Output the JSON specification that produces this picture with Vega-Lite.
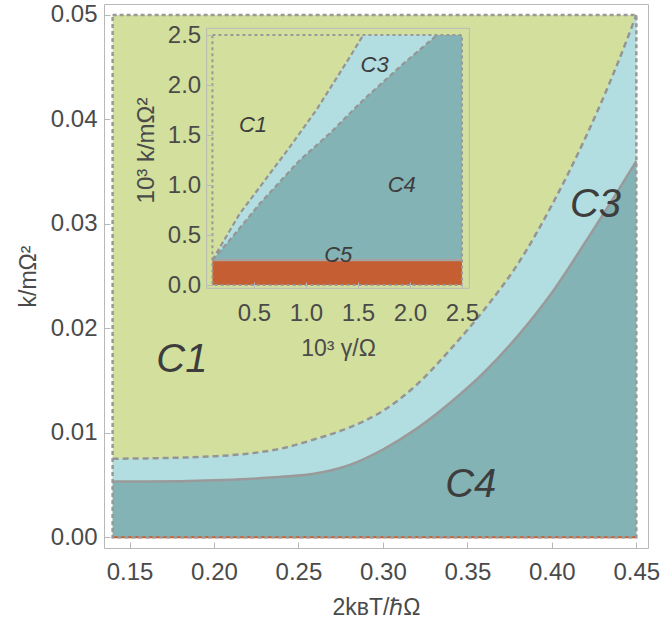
{
  "$schema": "https://vega.github.io/schema/vega-lite/v6.json",
  "width": 544,
  "height": 544,
  "autosize": {"type": "none"},
  "padding": {"left": 104, "top": 4, "right": 14, "bottom": 77},
  "background": "white",
  "config": {
    "view": {"stroke": "#b8b8b8", "strokeWidth": 1},
    "font": "Liberation Sans",
    "axis": {
      "labelFont": "Liberation Sans",
      "titleFont": "Liberation Sans",
      "labelFontSize": 24,
      "titleFontSize": 23,
      "labelColor": "#4a4a4a",
      "titleColor": "#4a4a4a",
      "titleFontWeight": "normal",
      "domain": false,
      "ticks": true,
      "tickSize": -6,
      "tickColor": "#b8b8b8",
      "tickWidth": 1,
      "grid": false,
      "zindex": 1
    }
  },
  "datasets": {
    "mainBox": [{"x0": 0.14, "x1": 0.45, "y0": 0, "y1": 0.05}],
    "mainCurves": [
      {"x": 0.14, "solid": 0.00534, "dashed": 0.00752},
      {"x": 0.16, "solid": 0.00534, "dashed": 0.00755},
      {"x": 0.18, "solid": 0.00537, "dashed": 0.00762},
      {"x": 0.20, "solid": 0.00545, "dashed": 0.00775},
      {"x": 0.22, "solid": 0.00558, "dashed": 0.0080},
      {"x": 0.24, "solid": 0.00578, "dashed": 0.0085},
      {"x": 0.26, "solid": 0.0061, "dashed": 0.0094},
      {"x": 0.28, "solid": 0.0069, "dashed": 0.0105},
      {"x": 0.30, "solid": 0.0084, "dashed": 0.0121},
      {"x": 0.32, "solid": 0.0104, "dashed": 0.0146},
      {"x": 0.34, "solid": 0.0129, "dashed": 0.0180},
      {"x": 0.36, "solid": 0.0158, "dashed": 0.0218},
      {"x": 0.38, "solid": 0.0193, "dashed": 0.0262},
      {"x": 0.40, "solid": 0.0234, "dashed": 0.0318},
      {"x": 0.42, "solid": 0.0283, "dashed": 0.0383},
      {"x": 0.44, "solid": 0.0334, "dashed": 0.0458},
      {"x": 0.45, "solid": 0.0360, "dashed": 0.0500}
    ],
    "mainLabels": [
      {"x": 0.181, "y": 0.0170, "label": "C1"},
      {"x": 0.4258, "y": 0.0318, "label": "C3"},
      {"x": 0.352, "y": 0.0050, "label": "C4"}
    ],
    "insetFrame": [{"x0": 0.045, "x1": 2.57, "y0": -0.033, "y1": 2.567}],
    "insetBox": [{"x0": 0.1, "x1": 2.5, "y0": 0, "y1": 2.5}],
    "insetC5": [{"x0": 0.1, "x1": 2.5, "y0": 0, "y1": 0.25}],
    "line1": [
      {"x": 0.1, "y": 0.25},
      {"x": 0.365, "y": 0.717},
      {"x": 0.558, "y": 0.983},
      {"x": 0.846, "y": 1.383},
      {"x": 1.10, "y": 1.75},
      {"x": 1.423, "y": 2.283},
      {"x": 1.55, "y": 2.5},
      {"x": 2.5, "y": 2.5}
    ],
    "line2": [
      {"x": 0.1, "y": 0.25},
      {"x": 0.3, "y": 0.49},
      {"x": 0.558, "y": 0.817},
      {"x": 0.942, "y": 1.25},
      {"x": 1.23, "y": 1.517},
      {"x": 1.55, "y": 1.85},
      {"x": 1.94, "y": 2.217},
      {"x": 2.26, "y": 2.5},
      {"x": 2.5, "y": 2.5}
    ],
    "insetLabels": [
      {"x": 0.49, "y": 1.6, "label": "C1"},
      {"x": 1.66, "y": 2.2, "label": "C3"},
      {"x": 1.92, "y": 1.0, "label": "C4"},
      {"x": 1.31, "y": 0.30, "label": "C5"}
    ]
  },
  "resolve": {"scale": {"x": "independent", "y": "independent"}, "axis": {"x": "independent", "y": "independent"}},
  "layer": [
    {
      "layer": [
        {
          "data": {"name": "mainBox"},
          "mark": {"type": "rect", "fill": "#d3e09d"},
          "encoding": {
            "x": {"field": "x0", "type": "quantitative",
              "scale": {"domain": [0.1349, 0.4569], "nice": false, "zero": false},
              "axis": {"orient": "bottom", "values": [0.15, 0.2, 0.25, 0.3, 0.35, 0.4, 0.45], "format": ".2f", "labelPadding": 18, "title": "2kʙT/ℏΩ", "titlePadding": 12}},
            "x2": {"field": "x1"},
            "y": {"field": "y0", "type": "quantitative",
              "scale": {"domain": [-0.00103, 0.05105], "nice": false, "zero": false},
              "axis": {"orient": "left", "values": [0, 0.01, 0.02, 0.03, 0.04, 0.05], "format": ".2f", "labelPadding": 13, "title": "k/mΩ²", "titlePadding": 10}},
            "y2": {"field": "y1"}
          }
        },
        {
          "data": {"name": "mainCurves"},
          "mark": {"type": "area", "fill": "#b3dee1", "interpolate": "monotone"},
          "encoding": {
            "x": {"field": "x", "type": "quantitative"},
            "y": {"field": "dashed", "type": "quantitative"},
            "y2": {"field": "solid"}
          }
        },
        {
          "data": {"name": "mainCurves"},
          "mark": {"type": "area", "fill": "#84b3b5", "interpolate": "monotone"},
          "encoding": {
            "x": {"field": "x", "type": "quantitative"},
            "y": {"field": "solid", "type": "quantitative"},
            "y2": {"datum": 0}
          }
        },
        {
          "data": {"name": "mainCurves"},
          "mark": {"type": "line", "stroke": "#9a9a9a", "strokeWidth": 2.5, "interpolate": "monotone"},
          "encoding": {
            "x": {"field": "x", "type": "quantitative"},
            "y": {"field": "solid", "type": "quantitative"}
          }
        },
        {
          "data": {"name": "mainCurves"},
          "mark": {"type": "line", "stroke": "#959595", "strokeWidth": 2.5, "strokeDash": [6, 4], "interpolate": "monotone"},
          "encoding": {
            "x": {"field": "x", "type": "quantitative"},
            "y": {"field": "dashed", "type": "quantitative"}
          }
        },
        {
          "data": {"name": "mainBox"},
          "mark": {"type": "rule", "stroke": "#c75c2e", "strokeWidth": 2},
          "encoding": {
            "x": {"field": "x0", "type": "quantitative"},
            "x2": {"field": "x1"},
            "y": {"field": "y0", "type": "quantitative"}
          }
        },
        {
          "data": {"name": "mainBox"},
          "mark": {"type": "rect", "fill": null, "fillOpacity": 0, "stroke": "#999999", "strokeWidth": 2.5, "strokeDash": [4, 3]},
          "encoding": {
            "x": {"field": "x0", "type": "quantitative"},
            "x2": {"field": "x1"},
            "y": {"field": "y0", "type": "quantitative"},
            "y2": {"field": "y1"}
          }
        },
        {
          "data": {"name": "mainLabels"},
          "mark": {"type": "text", "font": "Liberation Sans", "fontStyle": "italic", "fontSize": 40, "color": "#3d3d3d", "align": "center", "baseline": "middle"},
          "encoding": {
            "x": {"field": "x", "type": "quantitative"},
            "y": {"field": "y", "type": "quantitative"},
            "text": {"field": "label"}
          }
        }
      ]
    },
    {
      "layer": [
        {
          "data": {"name": "insetFrame"},
          "mark": {"type": "rect", "fill": "#d3e09d", "stroke": "#b8b8b8", "strokeWidth": 1},
          "encoding": {
            "x": {"field": "x0", "type": "quantitative",
              "scale": {"domain": [0.045, 2.57], "range": [102.7, 365.3], "nice": false, "zero": false},
              "axis": {"orient": "bottom", "offset": -260, "zindex": 2, "values": [0.5, 1, 1.5, 2, 2.5], "format": ".1f", "labelPadding": 19, "title": "10³ γ/Ω", "titlePadding": 12}},
            "x2": {"field": "x1"},
            "y": {"field": "y0", "type": "quantitative",
              "scale": {"domain": [-0.033, 2.567], "range": [284.3, 24.3], "nice": false, "zero": false},
              "axis": {"orient": "left", "offset": -102.7, "zindex": 2, "values": [0, 0.5, 1, 1.5, 2, 2.5], "format": ".1f", "labelPadding": 12, "title": "10³ k/mΩ²", "titleFontSize": 24, "titleX": -48, "titleY": 146, "titleAngle": -90, "titleBaseline": "bottom", "titleAlign": "center"}},
            "y2": {"field": "y1"}
          }
        },
        {
          "data": {"name": "line1"},
          "mark": {"type": "area", "fill": "#b3dee1"},
          "encoding": {
            "x": {"field": "x", "type": "quantitative"},
            "y": {"field": "y", "type": "quantitative"},
            "y2": {"datum": 0.25}
          }
        },
        {
          "data": {"name": "line2"},
          "mark": {"type": "area", "fill": "#84b3b5"},
          "encoding": {
            "x": {"field": "x", "type": "quantitative"},
            "y": {"field": "y", "type": "quantitative"},
            "y2": {"datum": 0.25}
          }
        },
        {
          "data": {"name": "insetC5"},
          "mark": {"type": "rect", "fill": "#c55e32"},
          "encoding": {
            "x": {"field": "x0", "type": "quantitative"},
            "x2": {"field": "x1"},
            "y": {"field": "y0", "type": "quantitative"},
            "y2": {"field": "y1"}
          }
        },
        {
          "data": {"name": "insetC5"},
          "mark": {"type": "rule", "stroke": "#a3a3a3", "strokeWidth": 2.5},
          "encoding": {
            "x": {"field": "x0", "type": "quantitative"},
            "x2": {"field": "x1"},
            "y": {"field": "y1", "type": "quantitative"}
          }
        },
        {
          "data": {"name": "line1"},
          "transform": [{"filter": "datum.x <= 1.6"}],
          "mark": {"type": "line", "stroke": "#959595", "strokeWidth": 2.2, "strokeDash": [5, 3]},
          "encoding": {
            "x": {"field": "x", "type": "quantitative"},
            "y": {"field": "y", "type": "quantitative"}
          }
        },
        {
          "data": {"name": "line2"},
          "transform": [{"filter": "datum.x <= 2.3"}],
          "mark": {"type": "line", "stroke": "#959595", "strokeWidth": 2.2, "strokeDash": [5, 3]},
          "encoding": {
            "x": {"field": "x", "type": "quantitative"},
            "y": {"field": "y", "type": "quantitative"}
          }
        },
        {
          "data": {"name": "insetBox"},
          "mark": {"type": "rect", "fill": null, "fillOpacity": 0, "stroke": "#999999", "strokeWidth": 2, "strokeDash": [3, 3]},
          "encoding": {
            "x": {"field": "x0", "type": "quantitative"},
            "x2": {"field": "x1"},
            "y": {"field": "y0", "type": "quantitative"},
            "y2": {"field": "y1"}
          }
        },
        {
          "data": {"name": "insetLabels"},
          "mark": {"type": "text", "font": "Liberation Sans", "fontStyle": "italic", "fontSize": 22, "color": "#3d3d3d", "align": "center", "baseline": "middle"},
          "encoding": {
            "x": {"field": "x", "type": "quantitative"},
            "y": {"field": "y", "type": "quantitative"},
            "text": {"field": "label"}
          }
        }
      ]
    }
  ]
}
